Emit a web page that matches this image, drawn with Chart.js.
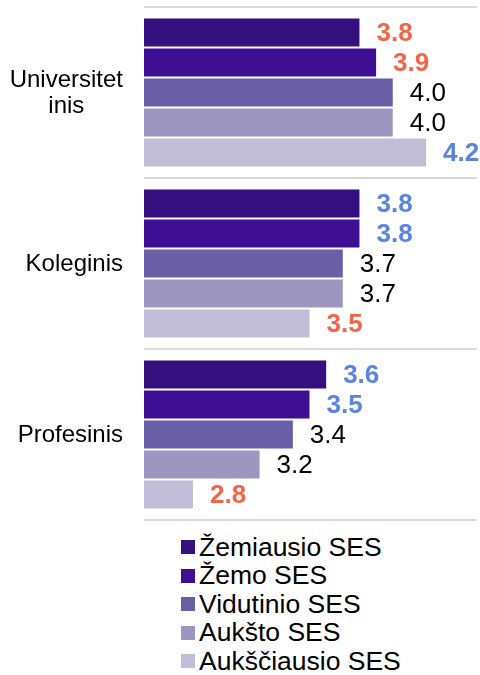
<!DOCTYPE html>
<html>
<head>
<meta charset="utf-8">
<script src="https://cdn.jsdelivr.net/npm/chart.js@4/dist/chart.umd.min.js"></script>
<style>
  html, body { margin: 0; padding: 0; background: #fff; }
  #wrap { position: relative; width: 480px; height: 530px; }
  #legend { margin: 3px 0 0 181px; font-family: "Liberation Sans", Arial, sans-serif; font-size: 26.5px; color: #000; }
  #legend .item { display: flex; align-items: center; height: 28.5px; }
  #legend .box { width: 14px; height: 14px; margin-right: 4px; }
</style>
</head>
<body>
<div id="wrap"><canvas id="chart"></canvas></div>
<div id="legend"></div>
<script>
// Categories (school type) and SES groups
const categories = [['Universitet', 'inis'], 'Koleginis', 'Profesinis'];
const seriesNames = ['Žemiausio SES', 'Žemo SES', 'Vidutinio SES', 'Aukšto SES', 'Aukščiausio SES'];

// values per SES group, in category order
const lowestSes = [3.8, 3.8, 3.6];
const lowSes = [3.9, 3.8, 3.5];
const middleSes = [4.0, 3.7, 3.4];
const highSes = [4.0, 3.7, 3.2];
const highestSes = [4.2, 3.5, 2.8];

// label highlight per value: 'lo' = below average (orange), 'hi' = above (blue)
const lowestMark = ['lo', 'hi', 'hi'];
const lowMark = ['lo', 'hi', 'hi'];
const middleMark = ['', '', ''];
const highMark = ['', '', ''];
const highestMark = ['hi', 'lo', 'lo'];

const seriesColors = ['#33107d', '#3e0e93', '#6a5ea7', '#9d96c1', '#c1bdd7'];
const markColors = { lo: '#f2654a', hi: '#5b84e0', '': '#000000' };

const FONT = '"Liberation Sans", Arial, sans-serif';

const values = [lowestSes, lowSes, middleSes, highSes, highestSes];
const marks = [lowestMark, lowMark, middleMark, highMark, highestMark];

const datasets = seriesNames.map((name, i) => ({
    label: name,
    data: values[i],
    marks: marks[i],
    backgroundColor: seriesColors[i],
    borderColor: '#ffffff',
    borderWidth: 1,
    borderSkipped: false,
    categoryPercentage: 0.877,
    barPercentage: 1.0,
}));

// value labels at the end of each bar
const valueLabels = {
    id: 'valueLabels',
    afterDatasetsDraw(chart) {
        const { ctx } = chart;
        ctx.save();
        ctx.textAlign = 'left';
        ctx.textBaseline = 'middle';
        chart.data.datasets.forEach((ds, di) => {
            chart.getDatasetMeta(di).data.forEach((bar, i) => {
                const m = ds.marks[i];
                ctx.font = (m ? 'bold ' : '') + '26px ' + FONT;
                ctx.fillStyle = markColors[m];
                ctx.fillText(ds.data[i].toFixed(1), bar.x + 16, bar.y + 1);
            });
        });
        ctx.restore();
    }
};

// category labels: block right-aligned, lines centred inside the block
const categoryLabels = {
    id: 'categoryLabels',
    afterDraw(chart) {
        const { ctx, scales: { y } } = chart;
        ctx.save();
        ctx.font = '24px ' + FONT;
        ctx.fillStyle = '#000';
        ctx.textAlign = 'center';
        ctx.textBaseline = 'middle';
        const lineH = 26;
        categories.forEach((label, i) => {
            const lines = Array.isArray(label) ? label : [label];
            const w = Math.max(...lines.map(l => ctx.measureText(l).width));
            const cx = 123 - w / 2;
            const cy = y.getPixelForTick(i);
            lines.forEach((l, k) => {
                ctx.fillText(l, cx, cy + (k - (lines.length - 1) / 2) * lineH + 1);
            });
        });
        ctx.restore();
    }
};

new Chart(document.getElementById('chart'), {
    type: 'bar',
    data: { labels: categories, datasets },
    options: {
        indexAxis: 'y',
        animation: false,
        responsive: true,
        maintainAspectRatio: false,
        layout: { padding: { top: 7, bottom: 10, left: 0, right: 3 } },
        plugins: {
            legend: { display: false },
            tooltip: { enabled: false },
        },
        scales: {
            x: {
                display: false,
                min: 2.5,
                max: 4.5,
            },
            y: {
                afterFit(scale) { scale.width = 144; },
                ticks: { display: false },
                border: { display: false },
                grid: {
                    offset: true,
                    color: '#d9d9d9',
                    lineWidth: 2,
                    drawTicks: false,
                },
            },
        },
    },
    plugins: [valueLabels, categoryLabels],
});

// legend, one entry per row
const legend = document.getElementById('legend');
seriesNames.forEach((name, i) => {
    const item = document.createElement('div');
    item.className = 'item';
    const box = document.createElement('span');
    box.className = 'box';
    box.style.background = seriesColors[i];
    const txt = document.createElement('span');
    txt.textContent = name;
    item.appendChild(box);
    item.appendChild(txt);
    legend.appendChild(item);
});
</script>
</body>
</html>
